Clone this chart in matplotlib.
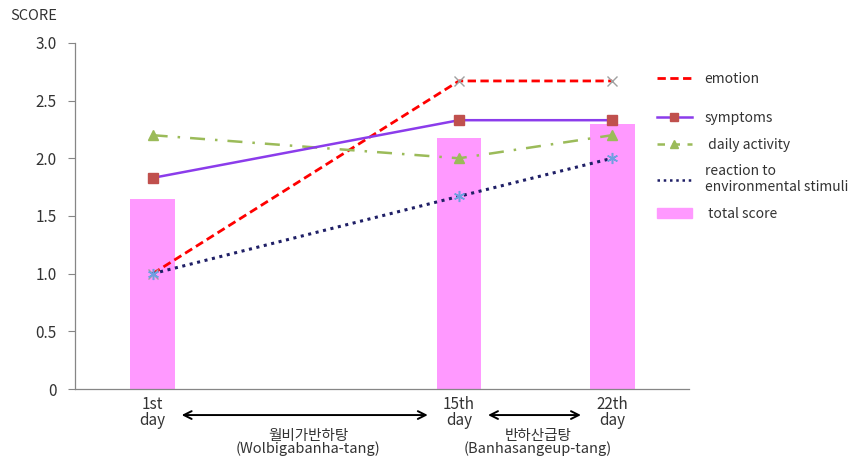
import matplotlib
matplotlib.use("Agg")
import matplotlib.pyplot as plt
from matplotlib.lines import Line2D
from matplotlib.patches import Patch
import matplotlib.transforms as mtransforms

plt.rcParams["font.family"] = ["Noto Sans CJK KR", "DejaVu Sans"]

# data
DAYS = [1, 15, 22]
DAY_LABELS = ["1st\nday", "15th\nday", "22th\nday"]
TOTAL = [1.65, 2.18, 2.30]
EMOTION = [1.0, 2.67, 2.67]
SYMPTOMS = [1.83, 2.33, 2.33]
DAILY = [2.2, 2.0, 2.2]
REACTION = [1.0, 1.67, 2.0]

PERIODS = [(1, 15, "월비가반하탕\n(Wolbigabanha-tang)"),
           (15, 22, "반하산급탕\n(Banhasangeup-tang)")]

BAR_COLOR = "#FF99FF"
EMO_COLOR = "#FF0000"
SYM_COLOR = "#8B3CEB"
SYM_MARK = "#C0504D"
DAI_COLOR = "#9BBB59"
REA_COLOR = "#1F1F66"
REA_MARK = "#6F9FE0"
AXIS_GRAY = "#868686"
TEXT = "#333333"

EMO_LS = (0, (3, 1.6))
DAI_LS = (0, (6, 4, 1, 4))
REA_LS = (0, (1, 1.5))
ASTERISK = (6, 2, 0)

fig = plt.figure(figsize=(8.56, 4.61), dpi=100)
ax = fig.add_axes([0.0876, 0.156, 0.717, 0.751])

ax.bar(DAYS, TOTAL, width=2.05, color=BAR_COLOR, zorder=1)
ax.plot(DAYS, EMOTION, color=EMO_COLOR, ls=EMO_LS, lw=2.0,
        marker="x", ms=7, mec="#A0A0A0", mew=1.0, zorder=3)
ax.plot(DAYS, SYMPTOMS, color=SYM_COLOR, lw=1.8, marker="s", ms=7,
        mfc=SYM_MARK, mec=SYM_MARK, zorder=4)
ax.plot(DAYS, DAILY, color=DAI_COLOR, ls=DAI_LS, lw=1.8,
        marker="^", ms=7, mfc=DAI_COLOR, mec=DAI_COLOR, zorder=3)
ax.plot(DAYS, REACTION, color=REA_COLOR, ls=REA_LS, lw=2.2,
        marker=ASTERISK, ms=8, mec=REA_MARK, mew=1.1, zorder=3)

ax.set_xlim(-2.55, 25.5)
ax.set_ylim(0, 3.0)
ax.set_yticks([0, 0.5, 1.0, 1.5, 2.0, 2.5, 3.0])
ax.set_yticklabels(["0", "0.5", "1.0", "1.5", "2.0", "2.5", "3.0"])
ax.set_xticks(DAYS)
ax.set_xticklabels(DAY_LABELS, linespacing=0.9)
ax.tick_params(axis="x", length=0, pad=5, labelsize=11, labelcolor=TEXT)
ax.tick_params(axis="y", length=5, width=0.8, color=AXIS_GRAY,
               labelsize=11, labelcolor=TEXT, pad=8)
for s in ("top", "right"):
    ax.spines[s].set_visible(False)
for s in ("left", "bottom"):
    ax.spines[s].set_color(AXIS_GRAY)
    ax.spines[s].set_linewidth(0.9)

fig.text(0.012, 0.965, "SCORE", fontsize=10.5, color=TEXT, va="center")

# treatment periods below the axis
trans = mtransforms.blended_transform_factory(ax.transData, ax.transAxes)
for start, end, label in PERIODS:
    ax.annotate("", xy=(start + 1.2, -0.075), xytext=(end - 1.3, -0.075),
                xycoords=trans, textcoords=trans,
                arrowprops=dict(arrowstyle="<->", color="black", lw=1.4,
                                mutation_scale=14))
    ax.text((start + end) / 2 + 0.1, -0.114, label, transform=trans,
            ha="center", va="top", fontsize=10.5, color=TEXT,
            linespacing=0.92)

# legend
leg_kw = dict(loc="upper left", frameon=False, fontsize=10,
              handlelength=2.5, handletextpad=0.95, borderpad=0,
              borderaxespad=0, labelcolor=TEXT)
h_emo = [Line2D([], [], color=EMO_COLOR, ls=EMO_LS, lw=2.0)]
leg1 = ax.legend(h_emo, ["emotion"], bbox_to_anchor=(0.948, 0.915),
                 **leg_kw)
ax.add_artist(leg1)
h_rest = [
    Line2D([], [], color=SYM_COLOR, lw=1.8, marker="s", ms=6,
           mfc=SYM_MARK, mec=SYM_MARK),
    Line2D([], [], color=DAI_COLOR, ls=(0, (3, 3)), lw=1.8, marker="^",
           ms=6, mfc=DAI_COLOR, mec=DAI_COLOR),
    Line2D([], [], color=REA_COLOR, ls=REA_LS, lw=1.8),
    Patch(color=BAR_COLOR),
]
ax.legend(h_rest, ["symptoms", " daily activity",
                   "reaction to\nenvironmental stimuli", " total score"],
          bbox_to_anchor=(0.948, 0.803), labelspacing=0.9, **leg_kw)

fig.savefig("out.png", dpi=100)
